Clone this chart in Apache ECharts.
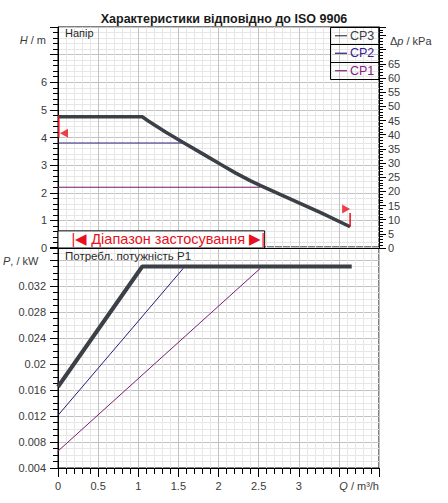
<!DOCTYPE html>
<html><head><meta charset="utf-8">
<script src="https://cdn.jsdelivr.net/npm/echarts@6/dist/echarts.min.js"></script>
<style>html,body{margin:0;padding:0;background:#fff}#c{width:448px;height:503px}</style>
</head><body><div id="c"></div>
<script>
// ---- data ----
const titleText = 'Характеристики відповідно до ISO 9906';
const seriesNames = ['CP3', 'CP2', 'CP1'];
const headPanelLabel = 'Напір';
const powerPanelLabel = 'Потребл. потужність P1';
const rangeLabel = '|◀ Діапазон застосування ▶|';

// head curves (Q m³/h, H m)
const cp3HeadQ = [0, 1.05, 1.13, 1.34, 1.55, 1.82, 2.03, 2.21, 2.4, 2.525, 3.03, 3.28, 3.64];
const cp3HeadH = [4.75, 4.75, 4.59, 4.2, 3.84, 3.38, 3.02, 2.72, 2.43, 2.26, 1.6, 1.27, 0.77];
const cp2HeadQ = [0, 1.55];
const cp2HeadH = [3.8, 3.8];
const cp1HeadQ = [0, 2.52];
const cp1HeadH = [2.2, 2.2];

// power curves (Q m³/h, P kW)
const cp3PowerQ = [0, 1.05, 3.66];
const cp3PowerP = [0.0165, 0.035, 0.035];
const cp2PowerQ = [0, 1.56];
const cp2PowerP = [0.0121, 0.0347];
const cp1PowerQ = [0, 2.52];
const cp1PowerP = [0.0066, 0.0347];

// operating range markers
const leftMarkQ = [0.01, 0.01];
const leftMarkH = [4.78, 4.0];
const leftArrow = [0.075, 4.15];
const rightMarkQ = [3.64, 3.64];
const rightMarkH = [0.77, 1.27];
const rightArrow = [3.59, 1.41];
const rangeBoxQ = [0, 2.575];
const rangeBoxH = [0, 0.62];

// axis labels
const qMaxLabel = 3;
const hMaxLabel = 6;
const dpMaxLabel = 65;
const pMaxLabel = 0.032;

// ---- chart ----
const zip = (a, b) => a.map((v, i) => [v, b[i]]);
const FONT = 'Liberation Sans, Arial, sans-serif';
const C3 = '#3b4047', C2 = '#2e1a78', C1 = '#7b1c72';
const MAJOR = '#c2c2c2', MINOR = '#e6e6e6';
const LBL = { color: '#3a3a3a', fontSize: 11, fontFamily: FONT };

const chart = echarts.init(document.getElementById('c'), null, { renderer: 'svg' });

const xCommon = {
  type: 'value', min: 0, max: 4, interval: 0.5,
  splitLine: { show: true, lineStyle: { color: MAJOR, width: 1 } },
  minorSplitLine: { show: true, lineStyle: { color: MINOR, width: 1 } },
  axisLine: { show: true, lineStyle: { color: '#000', width: 1 } }
};

const option = {
  animation: false,
  backgroundColor: '#fff',
  title: {
    text: titleText, left: 'center', top: 7,
    textStyle: { fontSize: 12.5, fontWeight: 'bold', color: '#1a1a1a', fontFamily: FONT }
  },
  legend: {
    data: [
      { name: 'CP3', textStyle: { color: '#3b4047' } },
      { name: 'CP2', textStyle: { color: '#3a2090' } },
      { name: 'CP1', textStyle: { color: '#8a2080' } }
    ],
    orient: 'vertical', left: 335, top: 27, itemGap: 0, padding: 0,
    icon: 'rect', itemWidth: 12, itemHeight: 1.2,
    selectedMode: false,
    textStyle: { fontSize: 12.5, lineHeight: 17.5, fontFamily: FONT, padding: [0, 0, 0, -2] }
  },
  grid: [
    { left: 58, top: 27, width: 321, height: 221, show: true, borderColor: '#000', borderWidth: 1, backgroundColor: '#fff' },
    { left: 58, top: 247, width: 321, height: 221, show: true, borderColor: '#000', borderWidth: 1, backgroundColor: '#fff' }
  ],
  xAxis: [
    Object.assign({}, xCommon, {
      gridIndex: 0,
      axisTick: { show: false }, axisLabel: { show: false },
      minorTick: { show: false, splitNumber: 5 }
    }),
    Object.assign({}, xCommon, {
      gridIndex: 1,
      axisTick: { show: true, length: 9, lineStyle: { color: '#000' } },
      minorTick: { show: true, splitNumber: 5, length: 6, lineStyle: { color: '#000' } },
      axisLabel: Object.assign({}, LBL, { margin: 12, formatter: v => v <= qMaxLabel + 1e-9 ? String(v) : '' })
    })
  ],
  yAxis: [
    {
      type: 'value', gridIndex: 0, min: 0, max: 8, interval: 1,
      axisLine: { show: true, lineStyle: { color: '#000' } },
      axisTick: { show: true, length: 8, lineStyle: { color: '#000' } },
      minorTick: { show: true, splitNumber: 5, length: 5, lineStyle: { color: '#000' } },
      splitLine: { show: true, lineStyle: { color: MAJOR } },
      minorSplitLine: { show: true, lineStyle: { color: MINOR } },
      axisLabel: Object.assign({}, LBL, { margin: 11, formatter: v => v <= hMaxLabel ? String(v) : '' })
    },
    {
      type: 'value', gridIndex: 0, position: 'right', min: 0, max: 78, interval: 5,
      axisLine: { show: true, lineStyle: { color: '#000' } },
      axisTick: { show: true, length: 7, lineStyle: { color: '#000' } },
      minorTick: { show: true, splitNumber: 5, length: 4, lineStyle: { color: '#000' } },
      splitLine: { show: false },
      axisLabel: Object.assign({}, LBL, { margin: 9, formatter: v => v <= dpMaxLabel ? String(v) : '' })
    },
    {
      type: 'value', gridIndex: 1, min: 0.004, max: 0.038, interval: 0.004,
      axisLine: { show: true, lineStyle: { color: '#000' } },
      axisTick: { show: true, length: 8, lineStyle: { color: '#000' } },
      minorTick: { show: true, splitNumber: 4, length: 5, lineStyle: { color: '#000' } },
      splitLine: { show: true, lineStyle: { color: MAJOR } },
      minorSplitLine: { show: true, lineStyle: { color: MINOR } },
      axisLabel: Object.assign({}, LBL, { margin: 12, formatter: v => v <= pMaxLabel + 1e-9 ? String(+v.toFixed(3)) : '' })
    }
  ],
  series: [
    { name: 'CP1', type: 'line', xAxisIndex: 0, yAxisIndex: 0, data: zip(cp1HeadQ, cp1HeadH), symbol: 'none', lineStyle: { color: C1, width: 1 }, itemStyle: { color: C1 }, z: 3 },
    { name: 'CP2', type: 'line', xAxisIndex: 0, yAxisIndex: 0, data: zip(cp2HeadQ, cp2HeadH), symbol: 'none', lineStyle: { color: C2, width: 1 }, itemStyle: { color: C2 }, z: 3 },
    { name: 'CP3', type: 'line', xAxisIndex: 0, yAxisIndex: 0, data: zip(cp3HeadQ, cp3HeadH), symbol: 'none', lineStyle: { color: C3, width: 3.5 }, itemStyle: { color: C3 }, z: 4 },
    { name: 'CP1', type: 'line', xAxisIndex: 1, yAxisIndex: 2, data: zip(cp1PowerQ, cp1PowerP), symbol: 'none', lineStyle: { color: C1, width: 1 }, itemStyle: { color: C1 }, z: 3 },
    { name: 'CP2', type: 'line', xAxisIndex: 1, yAxisIndex: 2, data: zip(cp2PowerQ, cp2PowerP), symbol: 'none', lineStyle: { color: C2, width: 1 }, itemStyle: { color: C2 }, z: 3 },
    { name: 'CP3', type: 'line', xAxisIndex: 1, yAxisIndex: 2, data: zip(cp3PowerQ, cp3PowerP), symbol: 'none', lineStyle: { color: C3, width: 4 }, itemStyle: { color: C3 }, z: 4 },
    { name: 'rangeLeft', type: 'line', xAxisIndex: 0, yAxisIndex: 0, data: zip(leftMarkQ, leftMarkH), symbol: 'none', lineStyle: { color: '#e8101a', width: 1.5 }, z: 5,
      markArea: {
        silent: true,
        itemStyle: { color: '#fff', borderColor: '#000', borderWidth: 1 },
        label: { show: true, position: 'insideLeft', distance: 14, color: '#e8101a', fontSize: 14.5, fontFamily: FONT, formatter: rangeLabel },
        data: [[{ coord: [rangeBoxQ[0], rangeBoxH[1]] }, { coord: [rangeBoxQ[1], rangeBoxH[0]] }]]
      }
    },
    { name: 'rangeRight', type: 'line', xAxisIndex: 0, yAxisIndex: 0, data: zip(rightMarkQ, rightMarkH), symbol: 'none', lineStyle: { color: '#e8101a', width: 1.5 }, z: 5 },
    { name: 'arrows', type: 'scatter', xAxisIndex: 0, yAxisIndex: 0, symbol: 'triangle', symbolSize: [9, 8],
      itemStyle: { color: '#e8101a' }, z: 5,
      data: [
        { value: leftArrow, symbolRotate: 90 },
        { value: rightArrow, symbolRotate: -90 }
      ]
    }
  ],
  graphic: [
    { type: 'rect', shape: { x: 330.5, y: 27.5, width: 48.5, height: 52 }, style: { fill: 'none', stroke: '#000', lineWidth: 1 }, z: 10 },
    { type: 'line', shape: { x1: 330.5, y1: 44.5, x2: 379, y2: 44.5 }, style: { stroke: '#000', lineWidth: 1 }, z: 10 },
    { type: 'line', shape: { x1: 330.5, y1: 62.5, x2: 379, y2: 62.5 }, style: { stroke: '#000', lineWidth: 1 }, z: 10 },
    { type: 'rect', shape: { x: 331, y: 28, width: 48, height: 51 }, style: { fill: '#fff' }, z: -1, silent: true },
    { type: 'text', left: 65, top: 27, style: { text: headPanelLabel, fontSize: 11, fontFamily: FONT, fill: '#2a2a2a' }, z: 10 },
    { type: 'text', left: 65, top: 250, style: { text: powerPanelLabel, fontSize: 11.5, fontFamily: FONT, fill: '#2a2a2a' }, z: 10 },
    { type: 'text', right: 448 - 46, top: 34, style: { text: '{i|H} / m', fontSize: 11, fontFamily: FONT, fill: '#3a3a3a',
      rich: { i: { fontStyle: 'italic', fontSize: 11, fontFamily: FONT, fill: '#3a3a3a' } } }, z: 10 },
    { type: 'text', left: 390, top: 35, style: { text: 'Δ{i|p} / kPa', fontSize: 11, fontFamily: FONT, fill: '#3a3a3a',
      rich: { i: { fontStyle: 'italic', fontSize: 11, fontFamily: FONT, fill: '#3a3a3a' } } }, z: 10 },
    { type: 'text', left: 3, top: 255, style: { text: '{i|P}, / kW', fontSize: 11, fontFamily: FONT, fill: '#3a3a3a',
      rich: { i: { fontStyle: 'italic', fontSize: 11, fontFamily: FONT, fill: '#3a3a3a' } } }, z: 10 },
    { type: 'text', right: 448 - 379, top: 480, style: { text: '{i|Q} / m³/h', fontSize: 11, fontFamily: FONT, fill: '#3a3a3a',
      rich: { i: { fontStyle: 'italic', fontSize: 11, fontFamily: FONT, fill: '#3a3a3a' } } }, z: 10 }
  ]
};
chart.setOption(option);
</script>
</body></html>
